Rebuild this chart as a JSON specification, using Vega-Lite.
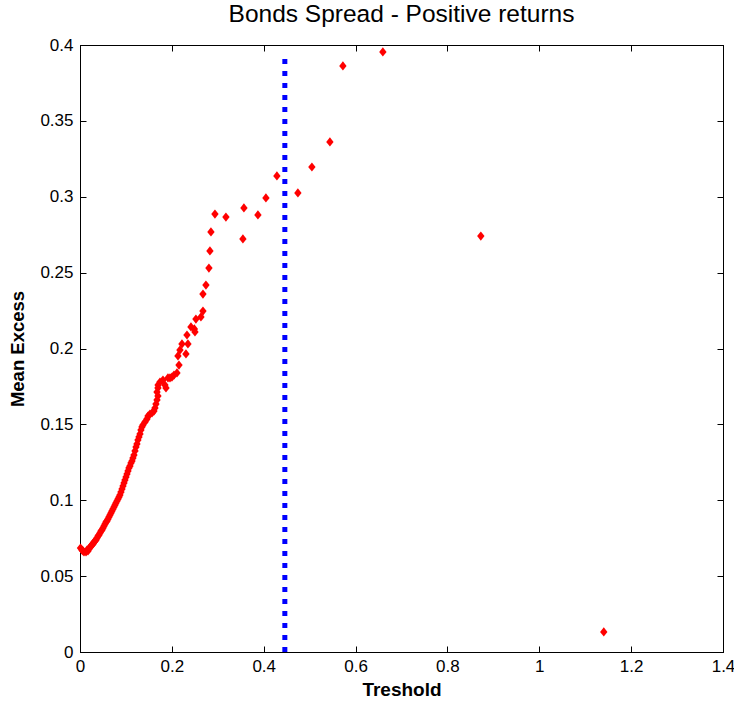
{
  "$schema": "https://vega.github.io/schema/vega-lite/v6.json",
  "width": 643,
  "height": 607,
  "autosize": {"type": "none"},
  "padding": {"left": 80, "top": 45, "right": 11, "bottom": 53},
  "background": "white",
  "title": {"text": "Bonds Spread - Positive returns", "fontSize": 24.5, "font": "Liberation Sans", "fontWeight": "normal", "color": "#000000", "offset": 9, "anchor": "middle"},
  "config": {
    "view": {"stroke": "#000000", "strokeWidth": 1},
    "axis": {"grid": false, "domainColor": "#000000", "tickColor": "#000000", "labelColor": "#000000", "titleColor": "#000000", "labelFont": "Liberation Sans Narrow, Liberation Sans", "titleFont": "Liberation Sans", "labelFlush": false}
  },
  "layer": [
    {
      "data": {"values": [
        {"t": 0.0011, "m": 0.0685}, {"t": 0.0044, "m": 0.0672}, {"t": 0.0065, "m": 0.0666}, {"t": 0.0087, "m": 0.0659},
        {"t": 0.0131, "m": 0.0659}, {"t": 0.0152, "m": 0.0672}, {"t": 0.0174, "m": 0.0666}, {"t": 0.0196, "m": 0.0679},
        {"t": 0.0218, "m": 0.0692}, {"t": 0.0239, "m": 0.0699}, {"t": 0.0261, "m": 0.0705}, {"t": 0.0283, "m": 0.0712},
        {"t": 0.0305, "m": 0.0725}, {"t": 0.0326, "m": 0.0731}, {"t": 0.0348, "m": 0.0738}, {"t": 0.0370, "m": 0.0751},
        {"t": 0.0392, "m": 0.0764}, {"t": 0.0413, "m": 0.0771}, {"t": 0.0435, "m": 0.0784}, {"t": 0.0457, "m": 0.0797},
        {"t": 0.0479, "m": 0.0804}, {"t": 0.0501, "m": 0.0817}, {"t": 0.0522, "m": 0.0830}, {"t": 0.0544, "m": 0.0843},
        {"t": 0.0566, "m": 0.0857}, {"t": 0.0588, "m": 0.0863}, {"t": 0.0609, "m": 0.0876}, {"t": 0.0631, "m": 0.0890},
        {"t": 0.0653, "m": 0.0903}, {"t": 0.0675, "m": 0.0916}, {"t": 0.0696, "m": 0.0929}, {"t": 0.0718, "m": 0.0942},
        {"t": 0.0740, "m": 0.0956}, {"t": 0.0762, "m": 0.0969}, {"t": 0.0783, "m": 0.0982}, {"t": 0.0805, "m": 0.0995},
        {"t": 0.0827, "m": 0.1008}, {"t": 0.0849, "m": 0.1021}, {"t": 0.0870, "m": 0.1035}, {"t": 0.0892, "m": 0.1054},
        {"t": 0.0914, "m": 0.1074}, {"t": 0.0936, "m": 0.1094}, {"t": 0.0958, "m": 0.1114}, {"t": 0.0979, "m": 0.1133},
        {"t": 0.1001, "m": 0.1153}, {"t": 0.1023, "m": 0.1173}, {"t": 0.1045, "m": 0.1193}, {"t": 0.1066, "m": 0.1213},
        {"t": 0.1088, "m": 0.1226}, {"t": 0.1110, "m": 0.1245}, {"t": 0.1132, "m": 0.1259}, {"t": 0.1153, "m": 0.1278},
        {"t": 0.1175, "m": 0.1298}, {"t": 0.1197, "m": 0.1325}, {"t": 0.1219, "m": 0.1351}, {"t": 0.1240, "m": 0.1371},
        {"t": 0.1262, "m": 0.1397}, {"t": 0.1284, "m": 0.1417}, {"t": 0.1306, "m": 0.1437}, {"t": 0.1327, "m": 0.1463},
        {"t": 0.1349, "m": 0.1483}, {"t": 0.1371, "m": 0.1496}, {"t": 0.1415, "m": 0.1516}, {"t": 0.1458, "m": 0.1535},
        {"t": 0.1480, "m": 0.1555}, {"t": 0.1523, "m": 0.1568}, {"t": 0.1567, "m": 0.1575}, {"t": 0.1610, "m": 0.1588},
        {"t": 0.1632, "m": 0.1608}, {"t": 0.1654, "m": 0.1634}, {"t": 0.1676, "m": 0.1661}, {"t": 0.1697, "m": 0.1687},
        {"t": 0.1676, "m": 0.1713}, {"t": 0.1697, "m": 0.1740}, {"t": 0.1700, "m": 0.1759}, {"t": 0.1741, "m": 0.1779},
        {"t": 0.1806, "m": 0.1792}, {"t": 0.1850, "m": 0.1759}, {"t": 0.1872, "m": 0.1740}, {"t": 0.1915, "m": 0.1806},
        {"t": 0.1959, "m": 0.1806}, {"t": 0.2002, "m": 0.1812}, {"t": 0.2046, "m": 0.1825}, {"t": 0.2111, "m": 0.1839},
        {"t": 0.2155, "m": 0.1891}, {"t": 0.2133, "m": 0.1951}, {"t": 0.2176, "m": 0.1990}, {"t": 0.2307, "m": 0.1964},
        {"t": 0.2220, "m": 0.2030}, {"t": 0.2350, "m": 0.2030}, {"t": 0.2329, "m": 0.2089}, {"t": 0.2503, "m": 0.2109},
        {"t": 0.2416, "m": 0.2142}, {"t": 0.2490, "m": 0.2129}, {"t": 0.2524, "m": 0.2194}, {"t": 0.2633, "m": 0.2208},
        {"t": 0.2677, "m": 0.2247}, {"t": 0.2677, "m": 0.2359}, {"t": 0.2742, "m": 0.2418}, {"t": 0.2807, "m": 0.2530},
        {"t": 0.2829, "m": 0.2643}, {"t": 0.2851, "m": 0.2768}, {"t": 0.2938, "m": 0.2886}, {"t": 0.3177, "m": 0.2866},
        {"t": 0.3547, "m": 0.2722}, {"t": 0.3569, "m": 0.2926}, {"t": 0.3874, "m": 0.2880}, {"t": 0.4048, "m": 0.2992},
        {"t": 0.4287, "m": 0.3137}, {"t": 0.4744, "m": 0.3025}, {"t": 0.5049, "m": 0.3196}, {"t": 0.5441, "m": 0.3361},
        {"t": 0.5724, "m": 0.3862}, {"t": 0.6594, "m": 0.3954}, {"t": 0.8727, "m": 0.2741}, {"t": 1.1404, "m": 0.0132}
      ]},
      "mark": {"type": "point", "shape": "M0,-1L0.8,0L0,1L-0.8,0Z", "filled": true, "color": "#ff0000", "size": 85, "opacity": 1, "strokeWidth": 0},
      "encoding": {
        "x": {"field": "t", "type": "quantitative", "scale": {"domain": [0, 1.4], "nice": false, "zero": false},
          "axis": {"orient": "bottom", "values": [0, 0.2, 0.4, 0.6, 0.8, 1, 1.2, 1.4], "format": "~g", "tickSize": -6, "labelPadding": 12, "labelFontSize": 17, "title": "Treshold", "titleFontSize": 19, "titleFontWeight": "bold", "titlePadding": 6}},
        "y": {"field": "m", "type": "quantitative", "scale": {"domain": [0, 0.4], "nice": false, "zero": false},
          "axis": {"orient": "left", "values": [0, 0.05, 0.1, 0.15, 0.2, 0.25, 0.3, 0.35, 0.4], "format": "~g", "tickSize": -6, "labelPadding": 13, "labelFontSize": 17, "title": "Mean Excess", "titleFontSize": 18.5, "titleFontWeight": "bold", "titlePadding": 12}}
      }
    },
    {
      "data": {"values": [{"x": 0.446, "y": 0, "y2": 0.393}]},
      "mark": {"type": "rule", "color": "#0000ff", "strokeWidth": 5, "strokeDash": [5, 7], "strokeCap": "butt"},
      "encoding": {
        "x": {"field": "x", "type": "quantitative", "axis": {"orient": "top", "labels": false, "title": null, "values": [0, 0.2, 0.4, 0.6, 0.8, 1, 1.2, 1.4], "tickSize": -6}},
        "y": {"field": "y", "type": "quantitative", "axis": {"orient": "right", "labels": false, "title": null, "values": [0, 0.05, 0.1, 0.15, 0.2, 0.25, 0.3, 0.35, 0.4], "tickSize": -6}},
        "y2": {"field": "y2"}
      }
    }
  ]
}
